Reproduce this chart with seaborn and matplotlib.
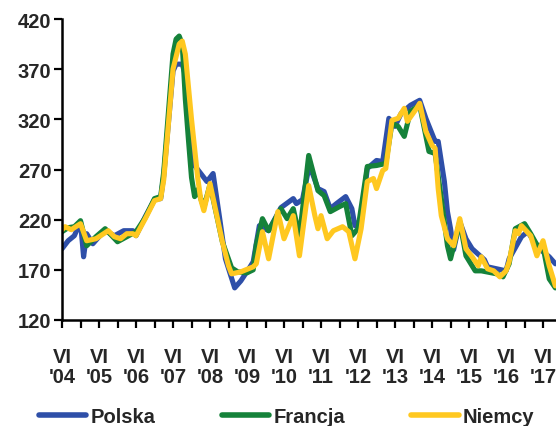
import numpy as np
import pandas as pd
import matplotlib
matplotlib.use("Agg")
import matplotlib.pyplot as plt
import seaborn as sns

# months since June 2004 (0 = VI 2004)
polska_m = [0, 2, 4, 6, 7, 8, 10, 12, 14, 17, 20, 23, 24, 27, 30, 32, 33, 36, 37, 39, 40, 43, 45,
            47, 49, 51, 53, 56, 58, 61, 62, 64, 67, 71, 75, 76, 78, 80, 81, 83, 85, 87, 89, 92,
            94, 95, 97, 99, 102, 104, 106, 108, 110, 113, 116, 118, 121, 122, 124, 125, 126,
            127, 129, 131, 133, 137, 138, 141, 144, 145, 149, 151, 154, 156, 158, 160]
polska_v = [191, 199, 204, 218, 183, 206, 196, 203, 209, 204, 209, 209, 204, 223, 240, 241, 264,
            368, 375, 375, 364, 274, 266, 258, 266, 224, 181, 152, 159, 173, 178, 214, 209, 232,
            241, 236, 240, 271, 268, 251, 248, 231, 236, 243, 231, 214, 220, 271, 279, 278, 321,
            313, 326, 334, 339, 321, 298, 298, 258, 228, 211, 190, 218, 201, 191, 180, 173, 171,
            169, 181, 203, 208, 194, 188, 183, 176]

francja_m = [0, 2, 4, 6, 8, 11, 14, 18, 21, 24, 27, 30, 32, 33, 36, 37, 38, 39, 40, 41, 42, 43,
             44, 46, 48, 52, 55, 57, 60, 62, 63, 65, 67, 71, 73, 75, 77, 80, 83, 85, 87, 90, 92,
             94, 96, 99, 102, 105, 107, 109, 111, 113, 116, 119, 121, 123, 125, 126, 129, 131,
             134, 136, 141, 143, 145, 147, 150, 152, 154, 156, 158, 160]
francja_v = [208, 212, 213, 219, 194, 203, 211, 198, 203, 208, 222, 241, 243, 268, 385, 400, 403,
             395, 340, 300, 262, 243, 250, 232, 255, 198, 172, 168, 167, 170, 195, 221, 209, 231,
             221, 231, 203, 284, 249, 244, 228, 233, 236, 204, 211, 273, 274, 276, 316, 313, 303,
             328, 334, 288, 286, 241, 194, 181, 218, 184, 169, 169, 166, 163, 176, 211, 216, 206,
             195, 193, 161, 152]

niemcy_m = [0, 1, 3, 6, 8, 11, 15, 17, 19, 21, 23, 24, 27, 30, 32, 33, 36, 38, 39, 40, 42, 44,
            45, 46, 48, 52, 54, 55, 58, 62, 63, 65, 67, 70, 72, 75, 77, 80, 82, 83, 84, 86, 88,
            91, 93, 95, 97, 99, 101, 102, 104, 105, 107, 109, 111, 112, 115, 116, 118, 120, 121,
            122, 123, 125, 127, 129, 131, 133, 135, 136, 138, 140, 142, 144, 145, 147, 148, 149,
            152, 154, 156, 158, 159, 160]
niemcy_v = [210, 213, 210, 216, 199, 201, 209, 203, 201, 206, 206, 204, 221, 239, 241, 260, 370,
            395, 398, 385, 320, 262, 240, 229, 256, 198, 174, 166, 168, 173, 176, 208, 181, 228,
            201, 224, 184, 254, 224, 211, 224, 201, 209, 213, 208, 181, 211, 258, 261, 251, 269,
            271, 319, 321, 331, 318, 331, 336, 308, 294, 291, 251, 224, 201, 194, 221, 191, 183,
            174, 183, 171, 169, 163, 169, 178, 209, 206, 214, 204, 184, 199, 174, 164, 154]

series_names = ["Polska", "Francja", "Niemcy"]
colors = ["#2E4FA8", "#15823A", "#FFC820"]

yticks = [120, 170, 220, 270, 320, 370, 420]
xtick_labels = ["VI\n'04", "VI\n'05", "VI\n'06", "VI\n'07", "VI\n'08", "VI\n'09", "VI\n'10",
                "VI\n'11", "VI\n'12", "VI\n'13", "VI\n'14", "VI\n'15", "VI\n'16", "VI\n'17"]

frames = []
for name, m, v in zip(series_names, [polska_m, francja_m, niemcy_m],
                      [polska_v, francja_v, niemcy_v]):
    frames.append(pd.DataFrame({"month": m, "value": v, "series": name}))
df = pd.concat(frames, ignore_index=True)

sns.set_theme(style="white")
plt.rcParams["font.family"] = ["Liberation Sans", "DejaVu Sans"]
plt.rcParams["font.weight"] = "bold"

FS = 14.5
fig = plt.figure(figsize=(5.56, 4.27), dpi=100)
ax = fig.add_axes([62 / 556, 106 / 427, 1 - 62 / 556, 301 / 427])

sns.lineplot(data=df, x="month", y="value", hue="series", hue_order=series_names,
             palette=colors, linewidth=3.7, ax=ax, sort=True, estimator=None,
             legend=True)

ax.set_xlim(0, 160.2)
ax.set_ylim(120, 420)
ax.set_yticks(yticks)
ax.set_yticklabels([str(t) for t in yticks], fontsize=FS, fontweight="bold")
major = np.arange(0, 157, 12)
minor = np.arange(6, 161, 12)
ax.set_xticks(major)
ax.set_xticks(minor, minor=True)
ax.set_xticklabels(xtick_labels, fontsize=FS, fontweight="bold", linespacing=1.08)
ax.set_xlabel("")
ax.set_ylabel("")
ax.tick_params(axis="both", which="both", direction="out", length=6, width=1.6,
               color="black", bottom=True, left=True)
ax.tick_params(axis="x", which="major", pad=13.5)
ax.tick_params(axis="y", pad=1.5)
for s in ["top", "right"]:
    ax.spines[s].set_visible(False)
for s in ["left", "bottom"]:
    ax.spines[s].set_color("black")
    ax.spines[s].set_linewidth(1.8)
ax.grid(False)

handles, labels = ax.get_legend_handles_labels()
for h in handles:
    h.set_linewidth(4.0)
ax.legend(handles, labels, loc="center left", bbox_to_anchor=(-37 / 494, -0.320),
          ncol=3, frameon=False, handlelength=2.35, handletextpad=0.2,
          columnspacing=3.3, borderpad=0.2, prop={"weight": "bold", "size": FS})

fig.savefig("out.png", dpi=100)
